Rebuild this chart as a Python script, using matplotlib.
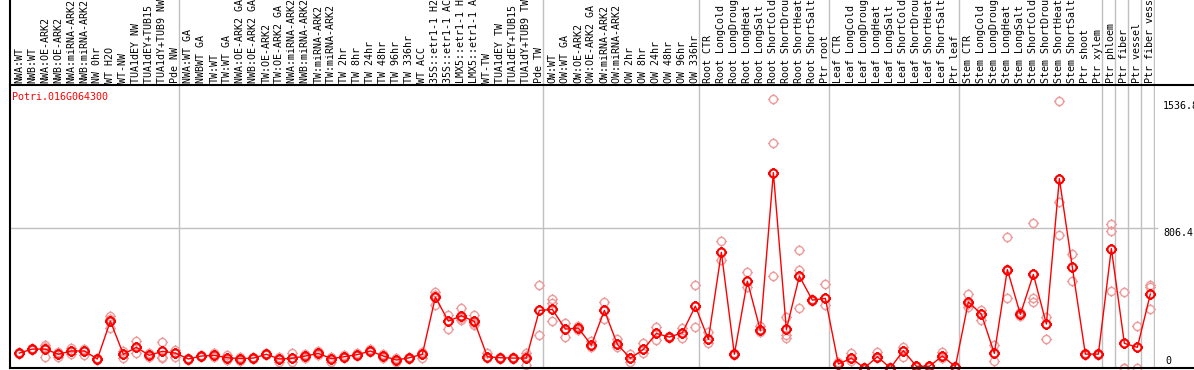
import numpy as np
import matplotlib
matplotlib.use("Agg")
from matplotlib import pyplot as plt
import matplotlib.path as mpath
from matplotlib.lines import Line2D

gene = "Potri.016G064300"

samples = [
    "NWA:WT", "NWB:WT", "NWA:OE-ARK2", "NWB:OE-ARK2", "NWA:miRNA-ARK2", "NWB:miRNA-ARK2",
    "NW 0hr", "WT H2O", "WT-NW", "TUA1dEY NW", "TUA1dEY+TUB15 NW", "TUA1dY+TUB9 NW", "Pde NW",
    "NWA:WT GA", "NWBWT GA", "TW:WT", "TW:WT GA", "NWA:OE-ARK2 GA", "NWB:OE-ARK2 GA",
    "TW:OE-ARK2", "TW:OE-ARK2 GA", "NWA:miRNA-ARK2 GA", "NWB:miRNA-ARK2 GA", "TW:miRNA-ARK2",
    "TW:miRNA-ARK2 GA", "TW 2hr", "TW 8hr", "TW 24hr", "TW 48hr", "TW 96hr", "TW 336hr",
    "WT ACC", "35S::etr1-1 H2O", "35S::etr1-1 ACC", "LMX5::etr1-1 H2O", "LMX5::etr1-1 ACC",
    "WT-TW", "TUA1dEY TW", "TUA1dEY+TUB15 TW", "TUA1dY+TUB9 TW", "Pde TW",
    "OW:WT", "OW:WT GA", "OW:OE-ARK2", "OW:OE-ARK2 GA", "OW:miRNA-ARK2", "OW:miRNA-ARK2 GA",
    "OW 2hr", "OW 8hr", "OW 24hr", "OW 48hr", "OW 96hr", "OW 336hr",
    "Root CTR", "Root LongCold", "Root LongDrought", "Root LongHeat", "Root LongSalt",
    "Root ShortCold", "Root ShortDrought", "Root ShortHeat", "Root ShortSalt", "Ptr root",
    "Leaf CTR", "Leaf LongCold", "Leaf LongDrought", "Leaf LongHeat", "Leaf LongSalt",
    "Leaf ShortCold", "Leaf ShortDrought", "Leaf ShortHeat", "Leaf ShortSalt", "Ptr leaf",
    "Stem CTR", "Stem LongCold", "Stem LongDrought", "Stem LongHeat", "Stem LongSalt",
    "Stem ShortCold", "Stem ShortDrought", "Stem ShortHeat", "Stem ShortSalt", "Ptr shoot",
    "Ptr xylem", "Ptr phloem", "Ptr fiber", "Ptr vessel", "Ptr fiber vessel",
]

# group borders (index of first sample of next group)
group_ends = [13, 41, 53, 63, 73, 84, 85, 86, 87, 88]

means = [86, 109, 109, 79, 98, 98, 52, 270, 79, 119, 73, 96, 86,
         52, 69, 73, 59, 54, 57, 79, 52, 56, 69, 84, 54, 65, 77, 98, 69, 46, 59, 79,
         408, 270, 301, 268, 65, 59, 57, 57, 332,
         337, 224, 230, 132, 332, 136, 56, 107, 199, 178, 203, 356,
         165, 666, 79, 500, 217, 1125, 222, 529, 391, 401,
         23, 56, 0, 65, 0, 100, 10, 10, 69, 8,
         381, 310, 84, 567, 309, 539, 253, 1091, 579, 80, 80,
         688, 142, 119, 426]

reps = [[92, 80], [115, 104], [132, 65, 120], [92, 65], [113, 82], [109, 75], [55, 48],
        [301, 228, 280], [98, 56], [155, 84], [84, 65], [148, 56, 65], [105, 61],
        [58, 46], [75, 63], [84, 61], [75, 44], [65, 38], [65, 50], [84, 73], [65, 36],
        [84, 36], [80, 60], [98, 73], [65, 36], [73, 58], [84, 70], [109, 92], [80, 58],
        [59, 33], [65, 52], [92, 56], [437, 362, 420], [305, 224], [343, 276, 290],
        [305, 247, 260], [88, 56], [65, 50], [63, 50], [88, 17, 70], [477, 188],
        [395, 268, 372], [260, 180], [240, 220], [155, 120], [378, 280], [165, 120],
        [80, 36], [146, 84], [237, 161], [185, 172], [230, 170], [477, 234],
        [209, 142], [732, 621], [84, 75], [554, 467], [241, 205], [1551, 1298, 529],
        [295, 190, 171], [563, 677, 343], [395, 385], [481, 362],
        [35, 15], [88, 40], [0, 5], [94, 60], [0, 4], [123, 61], [12, 8], [12, 8],
        [94, 60], [10, 5],
        [429, 353, 370], [333, 276], [132, 42], [753, 401, 570], [320, 300],
        [838, 406, 378], [295, 165], [1539, 956, 765], [654, 502], [85, 75], [85, 75],
        [832, 788, 445], [439, 0, 0], [240, 0], [476, 465, 337]]

ytick_vals = [1536.8, 806.4, 0]

W, H = 1194, 370
mono = "DejaVu Sans Mono"
fs = 7.2

# circle marker with little ticks outside
circ = mpath.Path.unit_circle()
r0, r1 = 1.0, 1.35
tv = [(0, r0), (0, r1), (0, -r0), (0, -r1), (r0, 0), (r1, 0), (-r0, 0), (-r1, 0)]
tc = [mpath.Path.MOVETO, mpath.Path.LINETO] * 4
ticks = mpath.Path(tv, tc)
mk = mpath.Path.make_compound_path(circ, ticks)

fig = plt.figure(figsize=(W / 100, H / 100), dpi=100)
ax = fig.add_axes([10 / W, 2 / H, 1145 / W, 283 / H])
xmax = 1145 / 13
ax.set_xlim(0, xmax)
ax.set_ylim(0, 1630)
ax.axis("off")

x = np.arange(len(samples)) + 0.72

for b in group_ends:
    ax.axvline(b, color="#c0c0c0", lw=1, zorder=0)
ax.axhline(806.4, color="#c0c0c0", lw=1, zorder=0, xmax=1.002, clip_on=False)

for i, rv in enumerate(reps):
    ax.plot([x[i]] * len(rv), rv, linestyle="none", marker=mk, ms=7.8,
            mfc="none", mec="#ee9a9a", mew=1.0, clip_on=False, zorder=2)
ax.plot(x, means, color="red", lw=1, zorder=3, clip_on=False)
ax.plot(x, means, linestyle="none", marker=mk, ms=7.8, mfc="none", mec="red",
        mew=1.5, zorder=4, clip_on=False)

xr = xmax + 8 / 13
ax.text(xr, ytick_vals[0], "%.1f" % ytick_vals[0], va="top", ha="left",
        family=mono, fontsize=fs, clip_on=False)
ax.text(xr, ytick_vals[1], "%.1f" % ytick_vals[1], va="top", ha="left",
        family=mono, fontsize=fs, clip_on=False)
ax.text(xr + 2 / 13, ytick_vals[2] + 12, "%d" % ytick_vals[2], va="bottom", ha="left",
        family=mono, fontsize=fs, clip_on=False)

# label strip on top
lax = fig.add_axes([10 / W, (H - 85) / H, 1145 / W, 85 / H])
lax.set_xlim(0, xmax)
lax.set_ylim(0, 85)
lax.axis("off")
for b in group_ends:
    lax.axvline(b, color="#c0c0c0", lw=1, zorder=0)
for xi, s in zip(x, samples):
    lax.text(xi, 2, s, rotation=90, ha="center", va="bottom", family=mono,
             fontsize=fs, clip_on=False)

fig.text(12 / W, 1 - 97 / H, gene, color="red", family=mono, fontsize=fs,
         ha="left", va="center")

# frame lines
fig.add_artist(Line2D([10 / W, 10 / W], [2 / H, 1], color="black", lw=1.5))
fig.add_artist(Line2D([10 / W, 1], [2 / H, 2 / H], color="black", lw=1.5))
fig.add_artist(Line2D([10 / W, 1], [(H - 85) / H, (H - 85) / H], color="black", lw=1.5))

fig.savefig("out.png", dpi=100)
